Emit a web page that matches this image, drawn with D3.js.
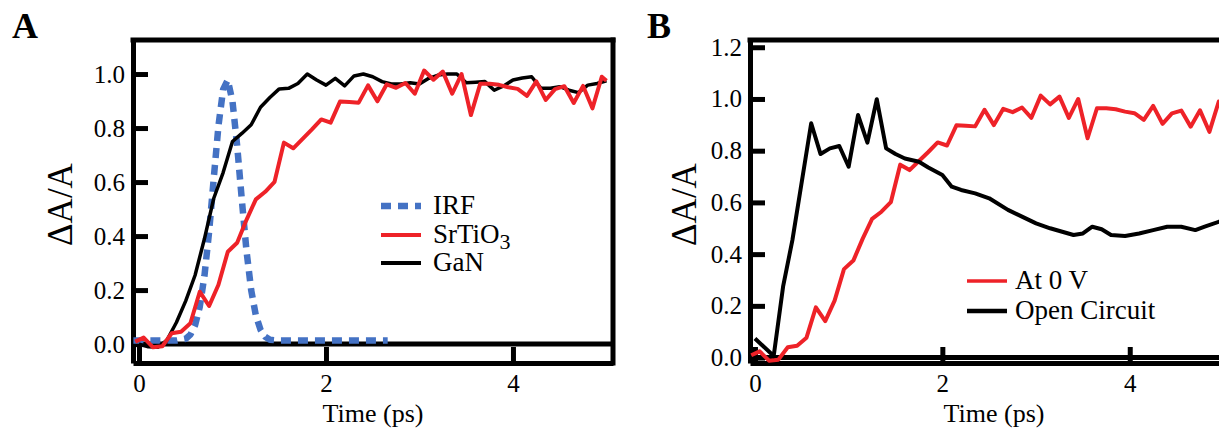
<!DOCTYPE html>
<html>
<head>
<meta charset="utf-8">
<script src="https://cdn.jsdelivr.net/npm/d3@7"></script>
<style>
  body { margin: 0; background: #fff; }
</style>
</head>
<body>
<div id="chart"></div>
<script>
'use strict'
/* Datos */
var xTicks = [0, 2, 4];
var yTicksA = [0, 0.2, 0.4, 0.6, 0.8, 1.0];
var yTicksB = [0, 0.2, 0.4, 0.6, 0.8, 1.0, 1.2];

// IRF (curva punteada azul)
var irfT = [-0.06, 0.3, 0.4, 0.5, 0.55, 0.6, 0.65, 0.7, 0.75, 0.8, 0.85, 0.9, 0.95,
            1.0, 1.05, 1.1, 1.15, 1.2, 1.25, 1.3, 1.35, 1.4, 1.5, 2.66];
var irfV = [0.013, 0.013, 0.013, 0.02, 0.035, 0.07, 0.138, 0.252, 0.416, 0.615, 0.808, 0.943, 0.978,
            0.899, 0.735, 0.534, 0.345, 0.2, 0.106, 0.053, 0.027, 0.016, 0.013, 0.013];

// SrTiO3 = At 0 V (misma curva roja en A y B)
var redT = [-0.04, 0.05, 0.15, 0.25, 0.35, 0.45, 0.55, 0.65, 0.75, 0.85, 0.95, 1.05, 1.15, 1.25,
            1.35, 1.45, 1.55, 1.65, 1.75, 1.85, 1.95, 2.05, 2.15, 2.25, 2.35, 2.45, 2.55, 2.65,
            2.75, 2.85, 2.95, 3.05, 3.15, 3.25, 3.35, 3.45, 3.55, 3.65, 3.75, 3.85, 3.95, 4.05,
            4.15, 4.25, 4.35, 4.45, 4.55, 4.65, 4.75, 4.85, 4.95, 5.0];
var redV = [0.009, 0.024, -0.012, -0.008, 0.04, 0.046, 0.077, 0.194, 0.141, 0.22, 0.342, 0.375, 0.46, 0.536,
            0.564, 0.601, 0.746, 0.725, 0.76, 0.795, 0.832, 0.82, 0.898, 0.896, 0.894, 0.958, 0.899, 0.962,
            0.949, 0.967, 0.927, 1.013, 0.979, 1.009, 0.927, 1.0, 0.848, 0.964, 0.964, 0.96, 0.951, 0.945,
            0.919, 0.973, 0.904, 0.944, 0.955, 0.893, 0.956, 0.873, 0.99, 0.975];

// GaN (negro, panel A)
var ganT = [0, 0.1, 0.2, 0.3, 0.4, 0.5, 0.6, 0.7, 0.8, 0.9, 1.0, 1.1, 1.2, 1.3, 1.4, 1.5, 1.6,
            1.7, 1.8, 1.9, 2.0, 2.1, 2.2, 2.3, 2.4, 2.5, 2.6, 2.7, 2.8, 2.9, 3.0, 3.1, 3.2, 3.3,
            3.4, 3.5, 3.6, 3.7, 3.8, 3.9, 4.0, 4.1, 4.2, 4.3, 4.4, 4.5, 4.6, 4.7, 4.8, 4.9, 5.0];
var ganV = [0.0, -0.01, -0.012, 0.015, 0.08, 0.16, 0.255, 0.39, 0.54, 0.635, 0.75, 0.78, 0.812, 0.877,
            0.913, 0.945, 0.947, 0.965, 1.0, 0.978, 0.959, 0.984, 0.956, 0.993, 1.0, 0.99, 0.972, 0.963,
            0.963, 0.968, 0.963, 0.984, 0.996, 1.0, 1.0, 0.968, 0.97, 0.972, 0.94, 0.956, 0.978, 0.985,
            0.99, 0.947, 0.947, 0.953, 0.94, 0.931, 0.959, 0.965, 0.975];

// Open Circuit (negro, panel B)
var ocT = [0, 0.2, 0.3, 0.4, 0.6, 0.7, 0.8, 0.9, 1.0, 1.1, 1.2, 1.3, 1.4, 1.5, 1.6, 1.75, 1.85, 2.0,
           2.1, 2.2, 2.35, 2.5, 2.7, 2.85, 3.0, 3.15, 3.4, 3.5, 3.6, 3.7, 3.8, 3.95, 4.1, 4.25, 4.4,
           4.55, 4.7, 4.8, 4.95, 5.0];
var ocV = [0.074, 0.006, 0.274, 0.455, 0.906, 0.787, 0.809, 0.818, 0.738, 0.938, 0.831, 0.999, 0.809,
           0.787, 0.77, 0.757, 0.735, 0.706, 0.661, 0.648, 0.635, 0.616, 0.571, 0.545, 0.519, 0.5, 0.474,
           0.48, 0.506, 0.496, 0.474, 0.47, 0.48, 0.493, 0.506, 0.506, 0.493, 0.506, 0.525, 0.53];

var rojo = '#ee2228';
var azul = '#4472c4';
var fuente = '"Liberation Serif", "Times New Roman", serif';

var svg = d3.select('#chart')
            .append('svg')
            .attr('width', 1219)
            .attr('height', 429);

/* Dibuja marco, ejes y linea de cero de un panel */
function panel(x, y, yTicks, letra, letraX, labelX, labelY){
	var g = svg.append('g');
	var x0 = x.range()[0], x1 = x.range()[1];
	var yTop = y.range()[1], yBot = y.range()[0];

	g.append('g')
	 .attr('transform', 'translate(' + x0 + ',0)')
	 .call(d3.axisLeft(y).tickValues(yTicks).tickFormat(d3.format('.1f'))
	         .tickSizeInner(-15).tickSizeOuter(0).tickPadding(8))
	 .call(ejeEstilo);

	g.append('g')
	 .attr('transform', 'translate(0,' + yBot + ')')
	 .call(d3.axisBottom(x).tickValues(xTicks).tickFormat(d3.format('d'))
	         .tickSizeInner(-16).tickSizeOuter(0).tickPadding(11))
	 .call(ejeEstilo);

	// marco superior y derecho
	g.append('line').attr('x1', x0).attr('x2', x1).attr('y1', yTop).attr('y2', yTop)
	 .attr('stroke', '#000').attr('stroke-width', 5).attr('stroke-linecap', 'square');
	g.append('line').attr('x1', x1).attr('x2', x1).attr('y1', yTop).attr('y2', yBot)
	 .attr('stroke', '#000').attr('stroke-width', 5).attr('stroke-linecap', 'square');
	// linea de cero
	g.append('line').attr('x1', x0).attr('x2', x1).attr('y1', y(0)).attr('y2', y(0))
	 .attr('stroke', '#000').attr('stroke-width', 5);

	g.append('text').attr('x', labelX).attr('y', 422).attr('text-anchor', 'middle')
	 .style('font-family', fuente).style('font-size', '26px').text('Time (ps)');
	g.append('text')
	 .attr('transform', 'translate(' + labelY + ',' + ((yTop + yBot) / 2 + 3) + ') rotate(-90)')
	 .attr('text-anchor', 'middle')
	 .style('font-family', fuente).style('font-size', '35px').text('\u0394A/A');
	g.append('text').attr('x', letraX).attr('y', 38)
	 .style('font-family', fuente).style('font-size', '36px').style('font-weight', 'bold').text(letra);
}

function ejeEstilo(sel){
	sel.attr('font-family', fuente);
	sel.selectAll('path, line').attr('stroke', '#000').attr('stroke-width', 5);
	sel.selectAll('text').style('font-family', fuente).style('font-size', '25px').attr('fill', '#000');
}

function curva(x, y, ts, vs, color, ancho, dash){
	var pts = ts.map((t, i)=>{ return [t, vs[i]]; });
	var linea = d3.line()
	              .x((d)=>{ return x(d[0]); })
	              .y((d)=>{ return y(d[1]); });
	var p = svg.append('path')
	           .datum(pts)
	           .attr('d', linea)
	           .attr('fill', 'none')
	           .attr('stroke', color)
	           .attr('stroke-width', ancho)
	           .attr('stroke-linejoin', 'round');
	if (dash) p.attr('stroke-dasharray', dash);
}

function leyenda(items, lx0, lx1, tx){
	items.forEach((it)=>{
		var l = svg.append('line').attr('x1', lx0).attr('x2', lx1)
		           .attr('y1', it.y).attr('y2', it.y)
		           .attr('stroke', it.color).attr('stroke-width', it.w);
		if (it.dash) l.attr('stroke-dasharray', it.dash);
		var t = svg.append('text').attr('x', tx).attr('y', it.y + 8)
		           .style('font-family', fuente).style('font-size', '27px');
		t.append('tspan').text(it.label);
		if (it.sub) t.append('tspan').attr('dy', 6).style('font-size', '22px').text(it.sub);
	});
}

/* Panel A */
var xA = d3.scaleLinear().domain([-0.064, 5.07]).range([133, 613]);
var yA = d3.scaleLinear().domain([-0.07, 1.126]).range([363, 40]);
panel(xA, yA, yTicksA, 'A', 12, 373, 72);
curva(xA, yA, irfT, irfV, azul, 6.5, '10,7');
curva(xA, yA, ganT, ganV, '#000', 3.5);
curva(xA, yA, redT, redV, rojo, 4);
leyenda([
	{label: 'IRF', y: 206, color: azul, w: 6.5, dash: '10,7'},
	{label: 'SrTiO', sub: '3', y: 235, color: rojo, w: 4},
	{label: 'GaN', y: 263, color: '#000', w: 4}
], 381, 421, 433);

/* Panel B */
var xB = d3.scaleLinear().domain([-0.053, 5.07]).range([750, 1230]);
var yB = d3.scaleLinear().domain([-0.021, 1.228]).range([363, 40]);
panel(xB, yB, yTicksB, 'B', 647, 994, 696);
curva(xB, yB, redT, redV, rojo, 4);
curva(xB, yB, ocT, ocV, '#000', 4);
leyenda([
	{label: 'At 0 V', y: 281, color: rojo, w: 3.5},
	{label: 'Open Circuit', y: 311, color: '#000', w: 4.5}
], 967, 1007, 1015);
</script>
</body>
</html>
